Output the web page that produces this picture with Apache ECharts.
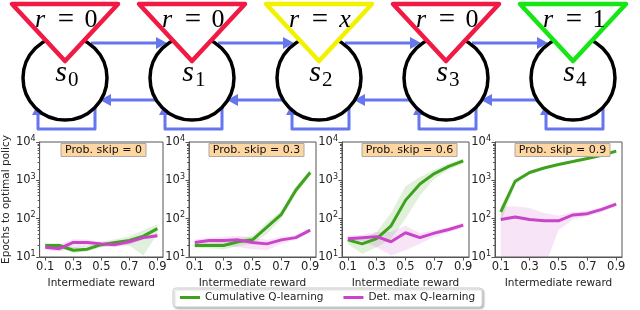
<!DOCTYPE html>
<html>
<head>
<meta charset="utf-8">
<script src="https://cdn.jsdelivr.net/npm/echarts@6/dist/echarts.min.js"></script>
<style>
html,body{margin:0;padding:0;background:#fff;}
#chart{width:640px;height:310px;}
</style>
</head>
<body>
<div id="chart"></div>
<script>
// ---------------- data ----------------
const rewards = [0.1, 0.2, 0.3, 0.4, 0.5, 0.6, 0.7, 0.8, 0.9];
const rewardTicks = [0.1, 0.3, 0.5, 0.7, 0.9];
const panelTitles = ['Prob. skip = 0', 'Prob. skip = 0.3', 'Prob. skip = 0.6', 'Prob. skip = 0.9'];
const seriesNames = ['Cumulative Q-learning', 'Det. max Q-learning'];

// Prob. skip = 0
const cum0   = [20, 20, 15, 16, 21, 24, 27, 35, 55];
const cumLo0 = [17, 17, 13, 14, 18, 20, 20, 11, 40];
const cumHi0 = [23, 23, 18, 19, 25, 29, 35, 50, 72];
const det0   = [18, 16.5, 24, 24, 22, 21, 25, 32, 36];
const detLo0 = [15, 14, 17, 19, 19, 18, 21, 28, 32];
const detHi0 = [22, 21, 29, 28, 25, 24, 29, 36, 41];

// Prob. skip = 0.3
const cum1   = [20, 20, 20, 25, 28, 60, 130, 550, 1600];
const cumLo1 = [17, 17, 16, 19, 22, 40, 100, 430, 1350];
const cumHi1 = [24, 24, 26, 31, 36, 80, 160, 700, 1900];
const det1   = [24, 27, 27, 28, 24, 22, 28, 32, 50];
const detLo1 = [19, 22, 20, 18, 16, 15, 22, 28, 44];
const detHi1 = [29, 32, 34, 36, 32, 28, 34, 37, 56];

// Prob. skip = 0.6
const cum2   = [28, 22, 30, 65, 300, 800, 1500, 2300, 3200];
const cumLo2 = [22, 12, 18, 30, 100, 400, 1100, 1900, 2700];
const cumHi2 = [34, 30, 45, 140, 700, 1200, 1900, 2800, 3700];
const det2   = [30, 32, 34, 25, 43, 32, 42, 52, 68];
const detLo2 = [25, 26, 18, 11, 15, 22, 33, 44, 58];
const detHi2 = [36, 38, 45, 45, 65, 42, 50, 60, 80];

// Prob. skip = 0.9
const cum3   = [150, 950, 1600, 2100, 2600, 3100, 3700, 4500, 5800];
const cumLo3 = [80, 800, 1450, 1950, 2450, 2900, 3450, 4200, 5400];
const cumHi3 = [220, 1100, 1750, 2250, 2750, 3300, 3950, 4800, 6300];
const det3   = [95, 110, 95, 88, 88, 125, 135, 175, 240];
const detLo3 = [5, 5, 5, 5, 50, 95, 115, 150, 210];
const detHi3 = [205, 210, 190, 140, 120, 150, 160, 200, 270];

// diagram content
const stateLabels = ['0', '1', '2', '3', '4'];
const rewardValues = ['0', '0', 'x', '0', '1'];
const rewardIsVar = [false, false, true, false, false];
const rewardColors = ['#f01a44', '#f01a44', '#f2f200', '#f01a44', '#16e616'];

// ---------------- layout / style ----------------
const panels = [
  {cum: cum0, cumLo: cumLo0, cumHi: cumHi0, det: det0, detLo: detLo0, detHi: detHi0},
  {cum: cum1, cumLo: cumLo1, cumHi: cumHi1, det: det1, detLo: detLo1, detHi: detHi1},
  {cum: cum2, cumLo: cumLo2, cumHi: cumHi2, det: det2, detLo: detLo2, detHi: detHi2},
  {cum: cum3, cumLo: cumLo3, cumHi: cumHi3, det: det3, detLo: detLo3, detHi: detHi3}
];
const GREEN = '#3fa21f';
const PINK = '#c944c9';
const GREEN_BAND = 'rgba(63,162,31,0.16)';
const PINK_BAND = 'rgba(201,68,201,0.14)';
const FRAME = '#555';
const FONT = 'DejaVu Sans';
const gridLeft0 = 36, gridStep = 153, gridW = 127, gridTop = 142, gridH = 115;

const grids = [], xAxes = [], yAxes = [], series = [], titles = [];

panels.forEach((p, k) => {
  const left = gridLeft0 + gridStep * k;
  grids.push({left: left, top: gridTop, width: gridW, height: gridH,
    show: true, borderColor: FRAME, borderWidth: 1, backgroundColor: 'transparent'});
  xAxes.push({
    type: 'value', gridIndex: k, min: 0.06, max: 0.94,
    name: 'Intermediate reward', nameLocation: 'middle', nameGap: 21,
    nameTextStyle: {fontFamily: FONT, fontSize: 10.5, color: '#222'},
    axisLine: {show: true, lineStyle: {color: FRAME, width: 1}},
    axisTick: {show: true, length: 3.5, lineStyle: {color: FRAME}, customValues: rewardTicks},
    axisLabel: {show: true, fontFamily: FONT, fontSize: 11.5, color: '#222', margin: 4,
      customValues: rewardTicks, formatter: v => v.toFixed(1)},
    splitLine: {show: false}
  });
  yAxes.push({
    type: 'log', logBase: 10, gridIndex: k, min: 10, max: 10000,
    name: k === 0 ? 'Epochs to optimal policy' : '',
    nameLocation: 'middle', nameRotate: 90, nameGap: 20,
    nameTextStyle: {fontFamily: FONT, fontSize: 10.5, color: '#222'},
    axisLine: {show: true, lineStyle: {color: FRAME, width: 1}},
    axisTick: {show: true, length: 3.5, lineStyle: {color: FRAME}},
    minorTick: {show: true, splitNumber: 9, length: 2, lineStyle: {color: FRAME}},
    axisLabel: {
      show: true, margin: 4, color: '#222',
      formatter: v => '{b|10}{s|' + Math.round(Math.log10(v)) + '}',
      rich: {
        b: {fontFamily: FONT, fontSize: 11.5, color: '#222'},
        s: {fontFamily: FONT, fontSize: 8, color: '#222', padding: [0, 0, 7, 0]}
      }
    },
    splitLine: {show: false}, minorSplitLine: {show: false}
  });
  titles.push({
    text: panelTitles[k], left: left + gridW / 2, top: gridTop + 1, textAlign: 'center',
    backgroundColor: '#fdd6a2', borderColor: '#aaa', borderWidth: 1,
    padding: [2, 4, 1, 4],
    textStyle: {fontFamily: FONT, fontSize: 11, fontWeight: 'normal', color: '#111'}
  });

  const band = (lo, hi, color) => ({
    type: 'custom', xAxisIndex: k, yAxisIndex: k, clip: true, silent: true, z: 1,
    data: rewards.map((x, i) => [x, lo[i], hi[i]]),
    renderItem: (params, api) => {
      if (params.dataIndex !== 0) return null;
      const pts = [];
      for (let i = 0; i < rewards.length; i++) pts.push(api.coord([rewards[i], hi[i]]));
      for (let i = rewards.length - 1; i >= 0; i--) pts.push(api.coord([rewards[i], lo[i]]));
      return {type: 'polygon', shape: {points: pts}, style: {fill: color}};
    }
  });
  series.push(band(p.cumLo, p.cumHi, GREEN_BAND));
  series.push(band(p.detLo, p.detHi, PINK_BAND));
  series.push({
    type: 'line', name: seriesNames[0], xAxisIndex: k, yAxisIndex: k, z: 3,
    data: rewards.map((x, i) => [x, p.cum[i]]),
    symbol: 'none', showSymbol: false,
    lineStyle: {width: 3, color: GREEN}, itemStyle: {color: GREEN}
  });
  series.push({
    type: 'line', name: seriesNames[1], xAxisIndex: k, yAxisIndex: k, z: 4,
    data: rewards.map((x, i) => [x, p.det[i]]),
    symbol: 'none', showSymbol: false,
    lineStyle: {width: 3, color: PINK}, itemStyle: {color: PINK}
  });
});

// ---------------- diagram (graphic) ----------------
const cxs = [65, 192, 319, 446, 573];
const cy = 78, rr = 42;
const BLUE = '#6576ee';
const SERIF = 'Liberation Serif';
const g = [];

function head(tx, ty, dir) {
  const L = 11, W = 6;
  let pts;
  if (dir === 'right') pts = [[tx, ty], [tx - L, ty - W], [tx - L, ty + W]];
  else if (dir === 'left') pts = [[tx, ty], [tx + L, ty - W], [tx + L, ty + W]];
  else pts = [[tx, ty], [tx - W, ty + L], [tx + W, ty + L]];
  return {type: 'polygon', shape: {points: pts}, style: {fill: BLUE}};
}

for (let i = 0; i < 4; i++) {
  const a = cxs[i], b = cxs[i + 1];
  g.push({type: 'line', shape: {x1: a + 26, y1: 43, x2: b - 30, y2: 43},
    style: {stroke: BLUE, lineWidth: 3}});
  g.push(head(b - 25, 43, 'right'));
  g.push({type: 'line', shape: {x1: b - 36, y1: 100, x2: a + 40, y2: 100},
    style: {stroke: BLUE, lineWidth: 3}});
  g.push(head(a + 35, 100, 'left'));
}
cxs.forEach(c => {
  const xr = c + 30, xl = c - 27, yb = 129;
  g.push({type: 'polyline', shape: {points: [[xr, 106], [xr, yb], [xl, yb], [xl, 112]]},
    style: {stroke: BLUE, lineWidth: 3, fill: null, lineJoin: 'round'}});
  g.push(head(xl, 104, 'up'));
});
cxs.forEach(c => {
  g.push({type: 'circle', shape: {cx: c, cy: cy, r: rr},
    style: {fill: '#fff', stroke: '#000', lineWidth: 3.5}});
});
cxs.forEach((c, i) => {
  g.push({type: 'polygon', shape: {points: [[c - 53, 4], [c + 53, 4], [c, 61]]},
    style: {fill: '#fff', stroke: rewardColors[i], lineWidth: 4.5, lineJoin: 'round'}});
  g.push({type: 'text', x: c - 25, y: 20, style: {text: 'r', fontFamily: SERIF, fontStyle: 'italic',
    fontSize: 26, fill: '#000', textAlign: 'center', textVerticalAlign: 'middle'}});
  g.push({type: 'text', x: c + 1, y: 20, style: {text: '=', fontFamily: SERIF,
    fontSize: 29, fill: '#000', textAlign: 'center', textVerticalAlign: 'middle'}});
  g.push({type: 'text', x: c + 26, y: 20, style: {text: rewardValues[i], fontFamily: SERIF,
    fontStyle: rewardIsVar[i] ? 'italic' : 'normal',
    fontSize: 26, fill: '#000', textAlign: 'center', textVerticalAlign: 'middle'}});
  g.push({type: 'text', x: c + 2, y: 73, style: {text: 's', fontFamily: SERIF, fontStyle: 'italic',
    fontSize: 30, fill: '#000', textAlign: 'right', textVerticalAlign: 'middle'}});
  g.push({type: 'text', x: c + 3, y: 80, style: {text: stateLabels[i], fontFamily: SERIF,
    fontSize: 21, fill: '#000', textAlign: 'left', textVerticalAlign: 'middle'}});
});

const option = {
  animation: false,
  backgroundColor: '#fff',
  title: titles,
  grid: grids,
  xAxis: xAxes,
  yAxis: yAxes,
  legend: {
    data: seriesNames, left: 173, top: 288,
    icon: 'rect', itemWidth: 20, itemHeight: 3, itemGap: 20,
    padding: [4, 7, 4, 7], borderColor: '#ccc', borderWidth: 1, borderRadius: 3,
    backgroundColor: '#fff',
    shadowColor: 'rgba(0,0,0,0.25)', shadowBlur: 2, shadowOffsetX: 1.5, shadowOffsetY: 1.5,
    textStyle: {fontFamily: FONT, fontSize: 10.5, color: '#222'}
  },
  graphic: g,
  series: series
};

const chart = echarts.init(document.getElementById('chart'), null, {renderer: 'canvas'});
chart.setOption(option);
</script>
</body>
</html>
